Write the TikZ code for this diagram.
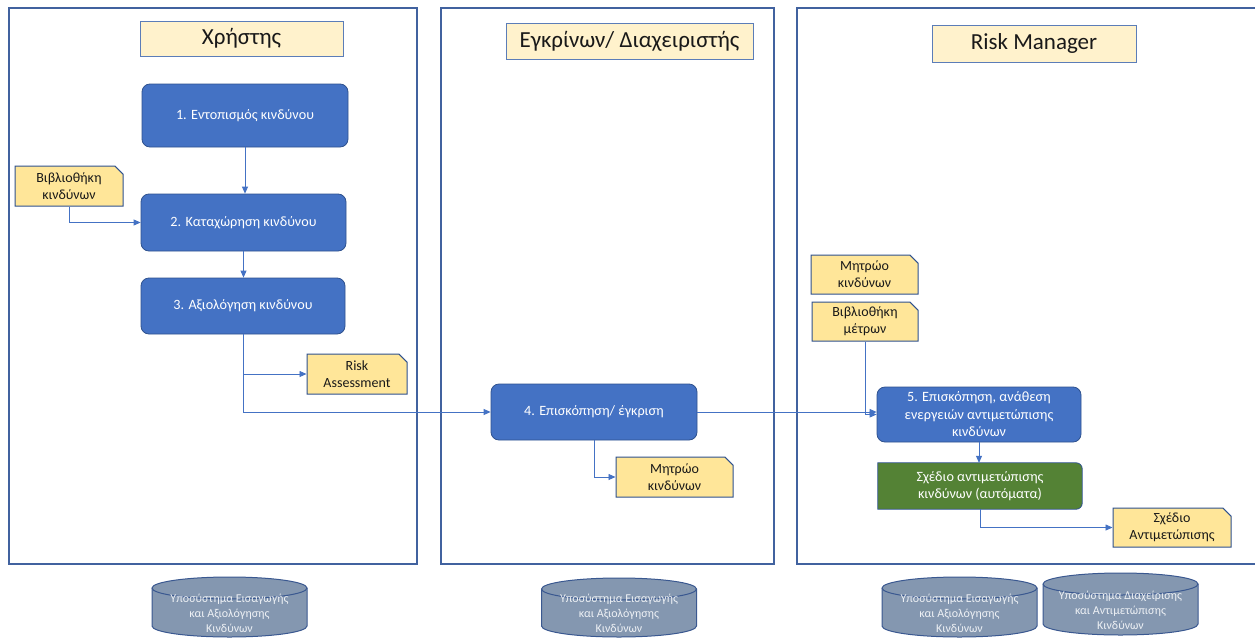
\documentclass[tikz,border=0pt]{standalone}
\usepackage{fontspec}
\setmainfont{Carlito}
\usetikzlibrary{arrows.meta,shapes.misc,backgrounds}
\definecolor{lanec}{HTML}{41629F}
\definecolor{boxblue}{HTML}{4472C4}
\definecolor{boxedge}{HTML}{2F528F}
\definecolor{titlefill}{HTML}{FFF2CC}
\definecolor{titleedge}{HTML}{5B7DB8}
\definecolor{docfill}{HTML}{FFE699}
\definecolor{docedge}{HTML}{2F528F}
\definecolor{greenfill}{HTML}{548235}
\definecolor{cylfill}{HTML}{8497B0}
\definecolor{cyledge}{HTML}{3A5890}
\definecolor{connc}{HTML}{4472C4}
\definecolor{cyltext}{HTML}{EEF1F5}
\tikzset{
  lane/.style={draw=lanec, line width=1.1pt},
  titlebox/.style={draw=titleedge, fill=titlefill, line width=1pt, inner sep=0pt,
    font=\fontsize{23}{27}\selectfont, text=black!90},
  stepbox/.style={draw=boxedge, fill=boxblue, rounded corners=8pt, line width=0.8pt,
    inner sep=0pt, text=white, align=center, font=\fontsize{14.2}{17.5}\selectfont},
  greenbox/.style={inner sep=0pt, text=white, align=center, font=\fontsize{14.2}{17.5}\selectfont},
  docbox/.style={chamfered rectangle, chamfered rectangle corners=north east,
    chamfered rectangle xsep=5pt, draw=docedge, fill=docfill, line width=1pt,
    inner sep=0pt, align=center, font=\fontsize{14}{17}\selectfont, text=black!90},
  link/.style={draw=connc, line width=0.8pt, -{Triangle[length=7pt,width=6pt]}},
  cylshape/.style={draw=cyledge, fill=cylfill, line width=1pt},
  cyllabel/.style={inner sep=0pt, align=center, text=cyltext, font=\fontsize{12}{15}\selectfont},
}
% #1 cx, #2 y of top ellipse centre, #3 y of bottom ellipse centre
\newcommand\dbcyl[3]{%
  \filldraw[cylshape] ({#1-77.5},#2) -- ({#1-77.5},#3)
    arc[start angle=180,end angle=360,x radius=77.5pt,y radius=11pt]
    -- ({#1+77.5},#2)
    arc[start angle=0,end angle=180,x radius=77.5pt,y radius=11pt] -- cycle;
  \draw[cylshape, fill=none] ({#1-77.5},#2)
    arc[start angle=180,end angle=360,x radius=77.5pt,y radius=11pt];
}
\begin{document}
\begin{tikzpicture}[x=1pt,y=-1pt]
\useasboundingbox (0,0) rectangle (1255,637);

% lanes
\draw[lane] (9,8) rectangle (417,564);
\draw[lane] (441,8) rectangle (774,564);
\draw[lane] (1258,8) -- (797,8) -- (797,564) -- (1258,564);

% titles
\node[titlebox, minimum width=203pt, minimum height=35pt] (t1) at (241.5,38.5) {Χρήστης};
\node[titlebox, minimum width=247pt, minimum height=36pt] (t2) at (629.5,41) {Εγκρίνων/ Διαχειριστής};
\node[titlebox, minimum width=204pt, minimum height=37pt] (t3) at (1034,43.5) {Risk Manager};

% process steps
\node[stepbox, minimum width=206pt, minimum height=63pt] (b1) at (245,115.5) {1. Εντοπισμός κινδύνου};
\node[stepbox, minimum width=205pt, minimum height=57pt] (b2) at (243.5,222.5) {2. Καταχώρηση κινδύνου};
\node[stepbox, minimum width=204pt, minimum height=56pt] (b3) at (243,306) {3. Αξιολόγηση κινδύνου};
\node[stepbox, minimum width=206pt, minimum height=56pt] (b4) at (594,412) {4. Επισκόπηση/ έγκριση};
\node[stepbox, minimum width=204pt, minimum height=55pt] (b5) at (979,414.5)
  {5. Επισκόπηση, ανάθεση\\ενεργειών αντιμετώπισης\\κινδύνων};
\node[greenbox, minimum width=204pt, minimum height=46pt] (g) at (980,486)
  {Σχέδιο αντιμετώπισης\\κινδύνων (αυτόματα)};
\begin{scope}[on background layer]
  \fill[white] (0,0) rectangle (1255,637);
  \filldraw[draw=boxedge, fill=greenfill, line width=0.8pt]
    (g.north west) [rounded corners=6pt] -- (g.north east) -- (g.south east) [sharp corners] -- (g.south west) -- cycle;
\end{scope}

% documents
\node[docbox, minimum width=108pt, minimum height=40pt] (lib1) at (69,186) {Βιβλιοθήκη\\κινδύνων};
\node[docbox, minimum width=100pt, minimum height=40pt] (ra) at (357,374) {Risk\\Assessment};
\node[docbox, minimum width=117pt, minimum height=40pt] (regm) at (674.5,477) {Μητρώο\\κινδύνων};
\node[docbox, minimum width=107pt, minimum height=39pt] (regr) at (864.5,274.5) {Μητρώο\\κινδύνων};
\node[docbox, minimum width=106pt, minimum height=39pt] (lib2) at (865,321.5) {Βιβλιοθήκη\\μέτρων};
\node[docbox, minimum width=118pt, minimum height=39pt] (plan) at (1172,527.5) {Σχέδιο\\Αντιμετώπισης};

% connectors
\draw[link] (b1.south) -- (b1.south |- b2.north);
\draw[link] (lib1.south) |- (b2.west);
\draw[link] (b2.south) -- (b2.south |- b3.north);
\draw[link] (b3.south) |- (ra.west);
\draw[link] (b3.south) |- (b4.west);
\draw[link] (b4.east) -- (b4.east -| b5.west);
\draw[link] (b4.south) |- (regm.west);
\draw[link] (lib2.south) |- (b5.west);
\draw[link] (b5.south) -- (b5.south |- g.north);
\draw[link] (g.south) |- (plan.west);

% databases
\dbcyl{229.5}{588}{626}
\node[cyllabel] (c1) at (229.5,613.5) {Υποσύστημα Εισαγωγής\\και Αξιολόγησης\\Κινδύνων};
\dbcyl{619}{589}{626}
\node[cyllabel] (c2) at (619,613.5) {Υποσύστημα Εισαγωγής\\και Αξιολόγησης\\Κινδύνων};
\dbcyl{959.5}{588}{626}
\node[cyllabel] (c3) at (959.5,613.5) {Υποσύστημα Εισαγωγής\\και Αξιολόγησης\\Κινδύνων};
\dbcyl{1120.5}{584}{624}
\node[cyllabel] (c4) at (1120.5,610.5) {Υποσύστημα Διαχείρισης\\και Αντιμετώπισης\\Κινδύνων};
\end{tikzpicture}
\end{document}
